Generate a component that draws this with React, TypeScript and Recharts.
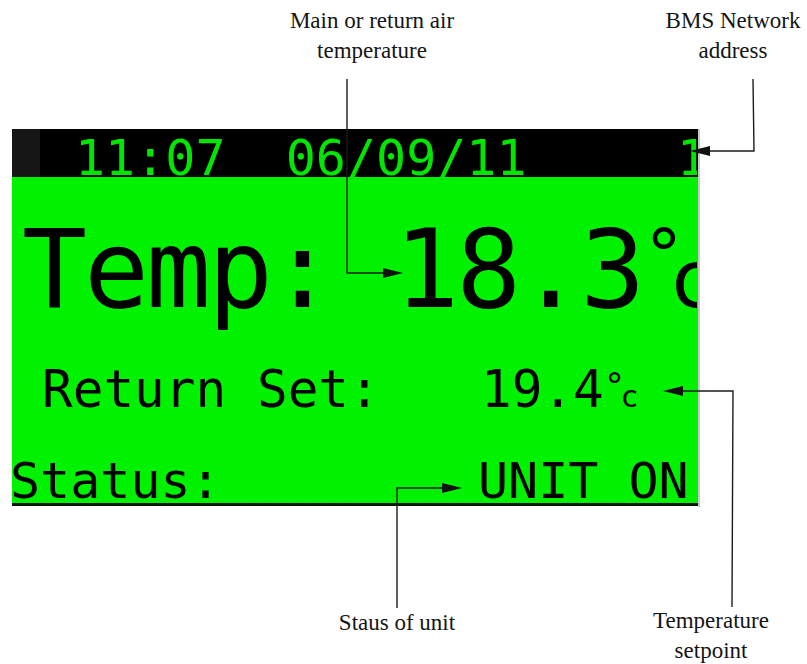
import {
  ComposedChart,
  Label,
  Line,
  ReferenceArea,
  Scatter,
  XAxis,
  YAxis,
} from "recharts";

const W = 807;
const H = 664;

// display panels (screen frame, header bar, cursor block)
const panels = [
  { id: "header", x1: 12, x2: 698, y1: 129, y2: 177, fill: "#000000" },
  { id: "cursor", x1: 12, x2: 40, y1: 129, y2: 177, fill: "#161616" },
  { id: "screen", x1: 12, x2: 698, y1: 177, y2: 504, fill: "#00f200" },
  { id: "edge", x1: 12, x2: 698, y1: 503, y2: 506, fill: "#0b160b" },
  { id: "shadow", x1: 698, x2: 700, y1: 129, y2: 507, fill: "#c8c8c8" },
];

const SCREEN_RIGHT = 697;

// degree-C suffixes (small raised degree + lowercase c)
const bigDegree = [
  { t: "°", size: 72, dy: -27, dx: 0 },
  { t: "c", size: 80, dy: 27, dx: -14 },
];
const smallDegree = [
  { t: "°", size: 36, dy: -9, dx: 0 },
  { t: "c", size: 30, dy: 9, dx: -5 },
];

// text shown on the LCD (clipped at the screen's right edge)
const lcdRows = [
  { text: "11:07\u00a0\u00a006/09/11", x: 75, baseline: 175, size: 50, color: "#00e600" },
  { text: "1", x: 677, baseline: 175, size: 50, color: "#00e600" },
  { text: "Temp: 18.3", x: 22, baseline: 307, size: 108, spacing: -3, color: "#000", suffix: bigDegree },
  { text: "Return Set:", x: 42, baseline: 407, size: 51, color: "#000" },
  { text: "19.4", x: 481, baseline: 407, size: 51, color: "#000", suffix: smallDegree },
  { text: "Status:", x: 10, baseline: 498, size: 50, color: "#000" },
  { text: "UNIT ON", x: 478, baseline: 498, size: 50, color: "#000" },
];

// callout captions
const callouts = [
  { x: 372, y: 28, lines: ["Main or return air", "temperature"] },
  { x: 733, y: 28, lines: ["BMS Network", "address"] },
  { x: 397, y: 630, lines: ["Staus of unit"] },
  { x: 711, y: 628, lines: ["Temperature", "setpoint"] },
];

// leader lines
const mainLeader = [
  { x: 347, y: 79 },
  { x: 347, y: 273 },
  { x: 395, y: 273 },
];
const bmsLeader = [
  { x: 753, y: 79 },
  { x: 754, y: 151 },
  { x: 698, y: 151 },
];
const statusLeader = [
  { x: 397, y: 608 },
  { x: 397, y: 488 },
  { x: 454, y: 488 },
];
const setpointLeader = [
  { x: 732, y: 607 },
  { x: 733, y: 391 },
  { x: 671, y: 391 },
];
const leaders = [mainLeader, bmsLeader, statusLeader, setpointLeader];

// arrow tips
const arrowTips = [
  { x: 403, y: 273, dir: "right" },
  { x: 690, y: 151, dir: "left" },
  { x: 462, y: 488, dir: "right" },
  { x: 663, y: 391, dir: "left" },
];

function LcdLabel(props: any) {
  const { viewBox, row } = props;
  if (!viewBox) return null;
  const { x, y, width, height } = viewBox;
  return (
    <svg x={x} y={y} width={width} height={height} overflow="hidden">
      <text
        x={0}
        y={row.size}
        fontFamily="'DejaVu Sans Mono', monospace"
        fontSize={row.size}
        letterSpacing={row.spacing ?? 0}
        fill={row.color}
        style={{ whiteSpace: "pre" }}
      >
        {row.text}
        {(row.suffix ?? []).map((s: any, i: number) => (
          <tspan key={i} fontSize={s.size} dy={s.dy} dx={s.dx}>
            {s.t}
          </tspan>
        ))}
      </text>
    </svg>
  );
}

function Arrow(props: any) {
  const { cx, cy, payload } = props;
  const len = 20;
  const half = 5;
  const back = payload.dir === "right" ? cx - len : cx + len;
  return (
    <polygon
      points={`${cx},${cy} ${back},${cy - half} ${back},${cy + half}`}
      fill="#111"
    />
  );
}

function Caption(props: any) {
  const { cx, cy, payload } = props;
  return (
    <text
      x={cx}
      y={cy}
      textAnchor="middle"
      fontFamily="'Liberation Serif', 'Times New Roman', serif"
      fontSize={23}
      fill="#141414"
    >
      {payload.lines.map((line: string, i: number) => (
        <tspan key={i} x={cx} dy={i === 0 ? 0 : 30}>
          {line}
        </tspan>
      ))}
    </text>
  );
}

export default function App() {
  return (
    <div style={{ position: "absolute", left: 0, top: 0, background: "#fff" }}>
      <ComposedChart width={W} height={H} margin={{ top: 0, right: 0, bottom: 0, left: 0 }}>
        <XAxis dataKey="x" type="number" domain={[0, W]} allowDataOverflow hide />
        <YAxis dataKey="y" type="number" domain={[0, H]} allowDataOverflow reversed hide />
        {panels.map((p) => (
          <ReferenceArea
            key={p.id}
            x1={p.x1}
            x2={p.x2}
            y1={p.y1}
            y2={p.y2}
            fill={p.fill}
            fillOpacity={1}
            stroke="none"
          />
        ))}
        {lcdRows.map((row, i) => (
          <ReferenceArea
            key={`lcd-${i}`}
            x1={row.x}
            x2={SCREEN_RIGHT}
            y1={row.baseline - row.size}
            y2={row.baseline + row.size * 0.3}
            fill="none"
            fillOpacity={0}
            stroke="none"
          >
            <Label content={(lp: any) => <LcdLabel {...lp} row={row} />} />
          </ReferenceArea>
        ))}
        {leaders.map((pts, i) => (
          <Line
            key={`leader-${i}`}
            data={pts}
            dataKey="y"
            type="linear"
            stroke="#1c1c1c"
            strokeWidth={1.4}
            dot={false}
            activeDot={false}
            isAnimationActive={false}
          />
        ))}
        <Scatter data={arrowTips} shape={<Arrow />} isAnimationActive={false} />
        <Scatter data={callouts} shape={<Caption />} isAnimationActive={false} />
      </ComposedChart>
    </div>
  );
}
